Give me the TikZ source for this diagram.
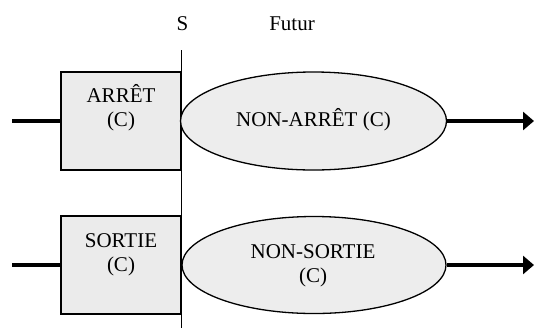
\documentclass[tikz,border=0pt]{standalone}
\usepackage{fontspec}
\setmainfont{Liberation Serif}
\usetikzlibrary{shapes.geometric,arrows.meta}
\begin{document}
\begin{tikzpicture}[x=1pt,y=-1pt,
  boxst/.style={draw=black,line width=1.6pt,fill=black!8,minimum width=120pt,minimum height=98pt,inner sep=0pt},
  ellst/.style={ellipse,draw=black,line width=1.3pt,fill=black!7,inner sep=0pt},
  lbl/.style={anchor=base,inner sep=0pt,font=\fontsize{21}{24}\selectfont},
  flow/.style={line width=3.2pt},
  flowarr/.style={line width=3.2pt,-{Triangle[length=11pt,width=18pt]}}]
\useasboundingbox (0,0) rectangle (534,330);
% top labels
\node[lbl] (S) at (182.5,30) {S};
\node[lbl] (F) at (292,30) {Futur};
% vertical line
\coordinate (vt) at (181,50);
\coordinate (vb) at (181,328);
\draw[line width=1pt] (vt) -- (vb);
% row 1
\node[boxst] (b1) at (121,121) {};
\node[ellst,minimum width=266pt,minimum height=98pt] (e1) at (313.5,121) {};
\coordinate (in1) at (12,121);
\coordinate (out1) at (534,121);
\draw[flow] (in1) -- (b1.west);
\draw[flowarr] (e1.east) -- (out1);
\node[lbl] (t1a) at (121,102) {ARRÊT};
\node[lbl] (t1b) at (121,126) {(C)};
\node[lbl] (t1c) at (313.5,126) {NON-ARRÊT (C)};
% row 2
\node[boxst] (b2) at (121,265) {};
\node[ellst,minimum width=264pt,minimum height=97pt] (e2) at (314,265) {};
\coordinate (in2) at (12,265);
\coordinate (out2) at (534,265);
\draw[flow] (in2) -- (b2.west);
\draw[flowarr] (e2.east) -- (out2);
\node[lbl] (t2a) at (121,247) {SORTIE};
\node[lbl] (t2b) at (121,271) {(C)};
\node[lbl] (t2c) at (313,258) {NON-SORTIE};
\node[lbl] (t2d) at (313,282) {(C)};
\end{tikzpicture}
\end{document}
